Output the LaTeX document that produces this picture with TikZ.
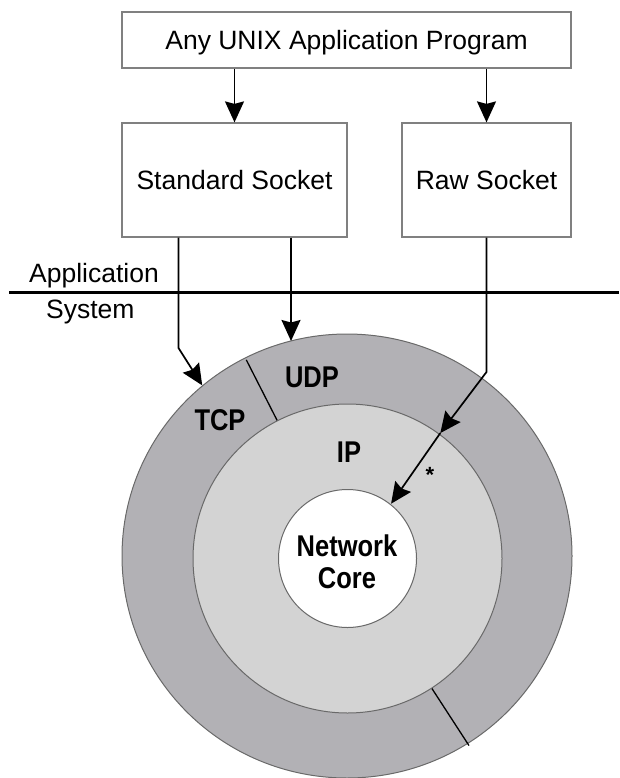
\documentclass[tikz,border=0pt]{standalone}
\usepackage{fontspec}
\setmainfont{Liberation Sans}
\newfontfamily\ringfont[FakeStretch=0.85]{Liberation Sans}
\usetikzlibrary{arrows.meta,calc}
\definecolor{ringgray}{RGB}{178,177,181}
\definecolor{ipgray}{RGB}{211,211,211}
\definecolor{edgegray}{RGB}{105,105,105}

\begin{document}
\begin{tikzpicture}[x=1pt,y=-1pt,
  box/.style={draw=black!50,line width=1.2pt,inner sep=0pt,text height=19pt,text depth=0pt,
    font=\fontsize{26.5}{30}\selectfont},
  arr/.style={line width=1.7pt,-{Stealth[length=21pt,width=19pt,inset=2.5pt]}},
  ring/.style={font=\ringfont\bfseries\fontsize{30}{32}\selectfont,inner sep=0pt,anchor=base},
  side/.style={font=\fontsize{26.5}{30}\selectfont,inner sep=0pt,anchor=base west}]
\useasboundingbox (0,0) rectangle (619,778);

% boxes on the application side
\node (app) [box,minimum width=449pt,minimum height=56pt] at (346.5,40) {Any UNIX Application Program};
\node (std) [box,minimum width=225pt,minimum height=114pt] at (234.5,180) {Standard Socket};
\node (raw) [box,minimum width=169pt,minimum height=114pt] at (486.5,180) {Raw Socket};

% application / system boundary
\node (appl) [side] at (29,282) {Application};
\node (sys) [side] at (46,318) {System};
\draw [line width=3pt] (9,292) -- (619,292);

% the rings
\coordinate (c) at (347.5,558.5);
\draw [edgegray,line width=1pt,fill=ringgray] (347,556) ellipse [x radius=225pt,y radius=222pt];
\draw [line width=1.3pt] ($(c)+(117:150pt)$) -- ($(c)+(117:223pt)$);
\draw [line width=1.3pt] ($(c)+(-57:150pt)$) -- ($(c)+(-57:223pt)$);
\draw [edgegray,line width=1pt,fill=ipgray] (c) circle [radius=154.5pt];
\draw [edgegray,line width=1pt,fill=white] (c) circle [radius=69pt];

\node (udp) [ring] at (312,387) {UDP};
\node (tcp) [ring] at (220,430) {TCP};
\node (ip) [ring] at (349,462) {IP};
\node (net) [ring] at (347,556.7) {Network};
\node (core) [ring] at (347,588.3) {Core};

% connectors
\coordinate (tcpbend) at (178.5,348);
\coordinate (tcptip) at ($(c)+(130:226pt)$);
\coordinate (udptip) at (291,341);
\coordinate (rawbend) at (486.5,372);
\coordinate (iptip) at ($(c)+(53.5:156pt)$);
\coordinate (coretip) at ($(c)+(51.5:70pt)$);

\draw [arr] (std.north |- app.south) -- (std.north);
\draw [arr] (raw.north |- app.south) -- (raw.north);
\draw [arr] (std.south -| tcpbend) -- (tcpbend) -- (tcptip);
\draw [arr] (std.south -| udptip) -- (udptip);
\draw [arr] (raw.south) -- (rawbend) -- (iptip);
\draw [arr] (iptip) -- (coretip);
\node (star) [anchor=north,inner sep=0pt,font=\bfseries\fontsize{22}{22}\selectfont] at (430,467) {*};
\end{tikzpicture}
\end{document}
